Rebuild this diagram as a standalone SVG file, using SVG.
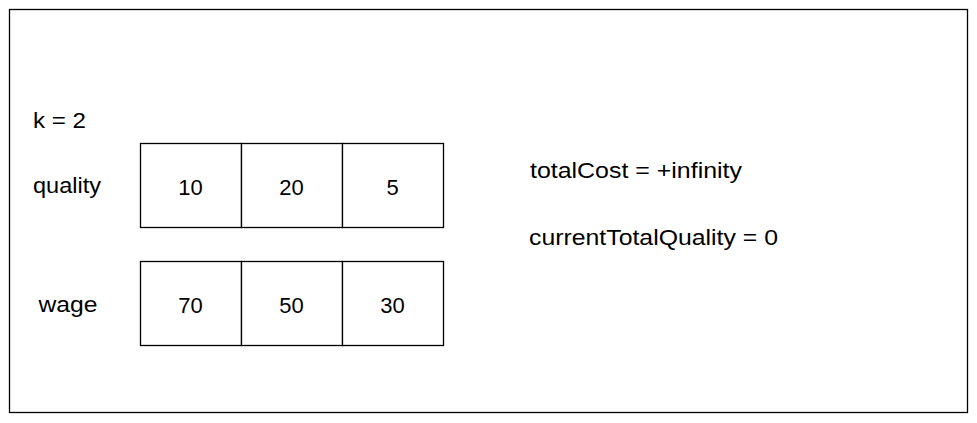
<svg xmlns="http://www.w3.org/2000/svg" width="977" height="423" viewBox="0 0 977 423">
<style>
.box{fill:#fff;stroke:#000;stroke-width:1.3}
.frame{fill:#fff;stroke:#000;stroke-width:1.3}
text{font-family:"Liberation Sans",Arial,sans-serif;font-size:22px;fill:#000}
.c{text-anchor:middle}
</style>
<rect width="977" height="423" fill="#fff"/>
<g id="frame"><rect class="frame" x="9.5" y="9.5" width="958" height="403"/></g>
<g id="k"><text x="33" y="128" textLength="53" lengthAdjust="spacingAndGlyphs">k = 2</text></g>
<g id="quality-label"><text x="33" y="193" textLength="68" lengthAdjust="spacingAndGlyphs">quality</text></g>
<g id="wage-label"><text x="38.5" y="312" textLength="59" lengthAdjust="spacingAndGlyphs">wage</text></g>
<g id="q0"><rect class="box" x="140.5" y="143.5" width="101" height="84"/><text class="c" x="190.5" y="194.5">10</text></g>
<g id="q1"><rect class="box" x="241.5" y="143.5" width="101" height="84"/><text class="c" x="291.5" y="194.5">20</text></g>
<g id="q2"><rect class="box" x="342.5" y="143.5" width="101" height="84"/><text class="c" x="392.5" y="194.5">5</text></g>
<g id="w0"><rect class="box" x="140.5" y="261.5" width="101" height="84"/><text class="c" x="190.5" y="312.5">70</text></g>
<g id="w1"><rect class="box" x="241.5" y="261.5" width="101" height="84"/><text class="c" x="291.5" y="312.5">50</text></g>
<g id="w2"><rect class="box" x="342.5" y="261.5" width="101" height="84"/><text class="c" x="392.5" y="312.5">30</text></g>
<g id="totalCost"><text x="530" y="178" textLength="212" lengthAdjust="spacingAndGlyphs">totalCost = +infinity</text></g>
<g id="currentTotalQuality"><text x="529" y="245" textLength="249" lengthAdjust="spacingAndGlyphs">currentTotalQuality = 0</text></g>
<g id="connectors"></g>
</svg>
